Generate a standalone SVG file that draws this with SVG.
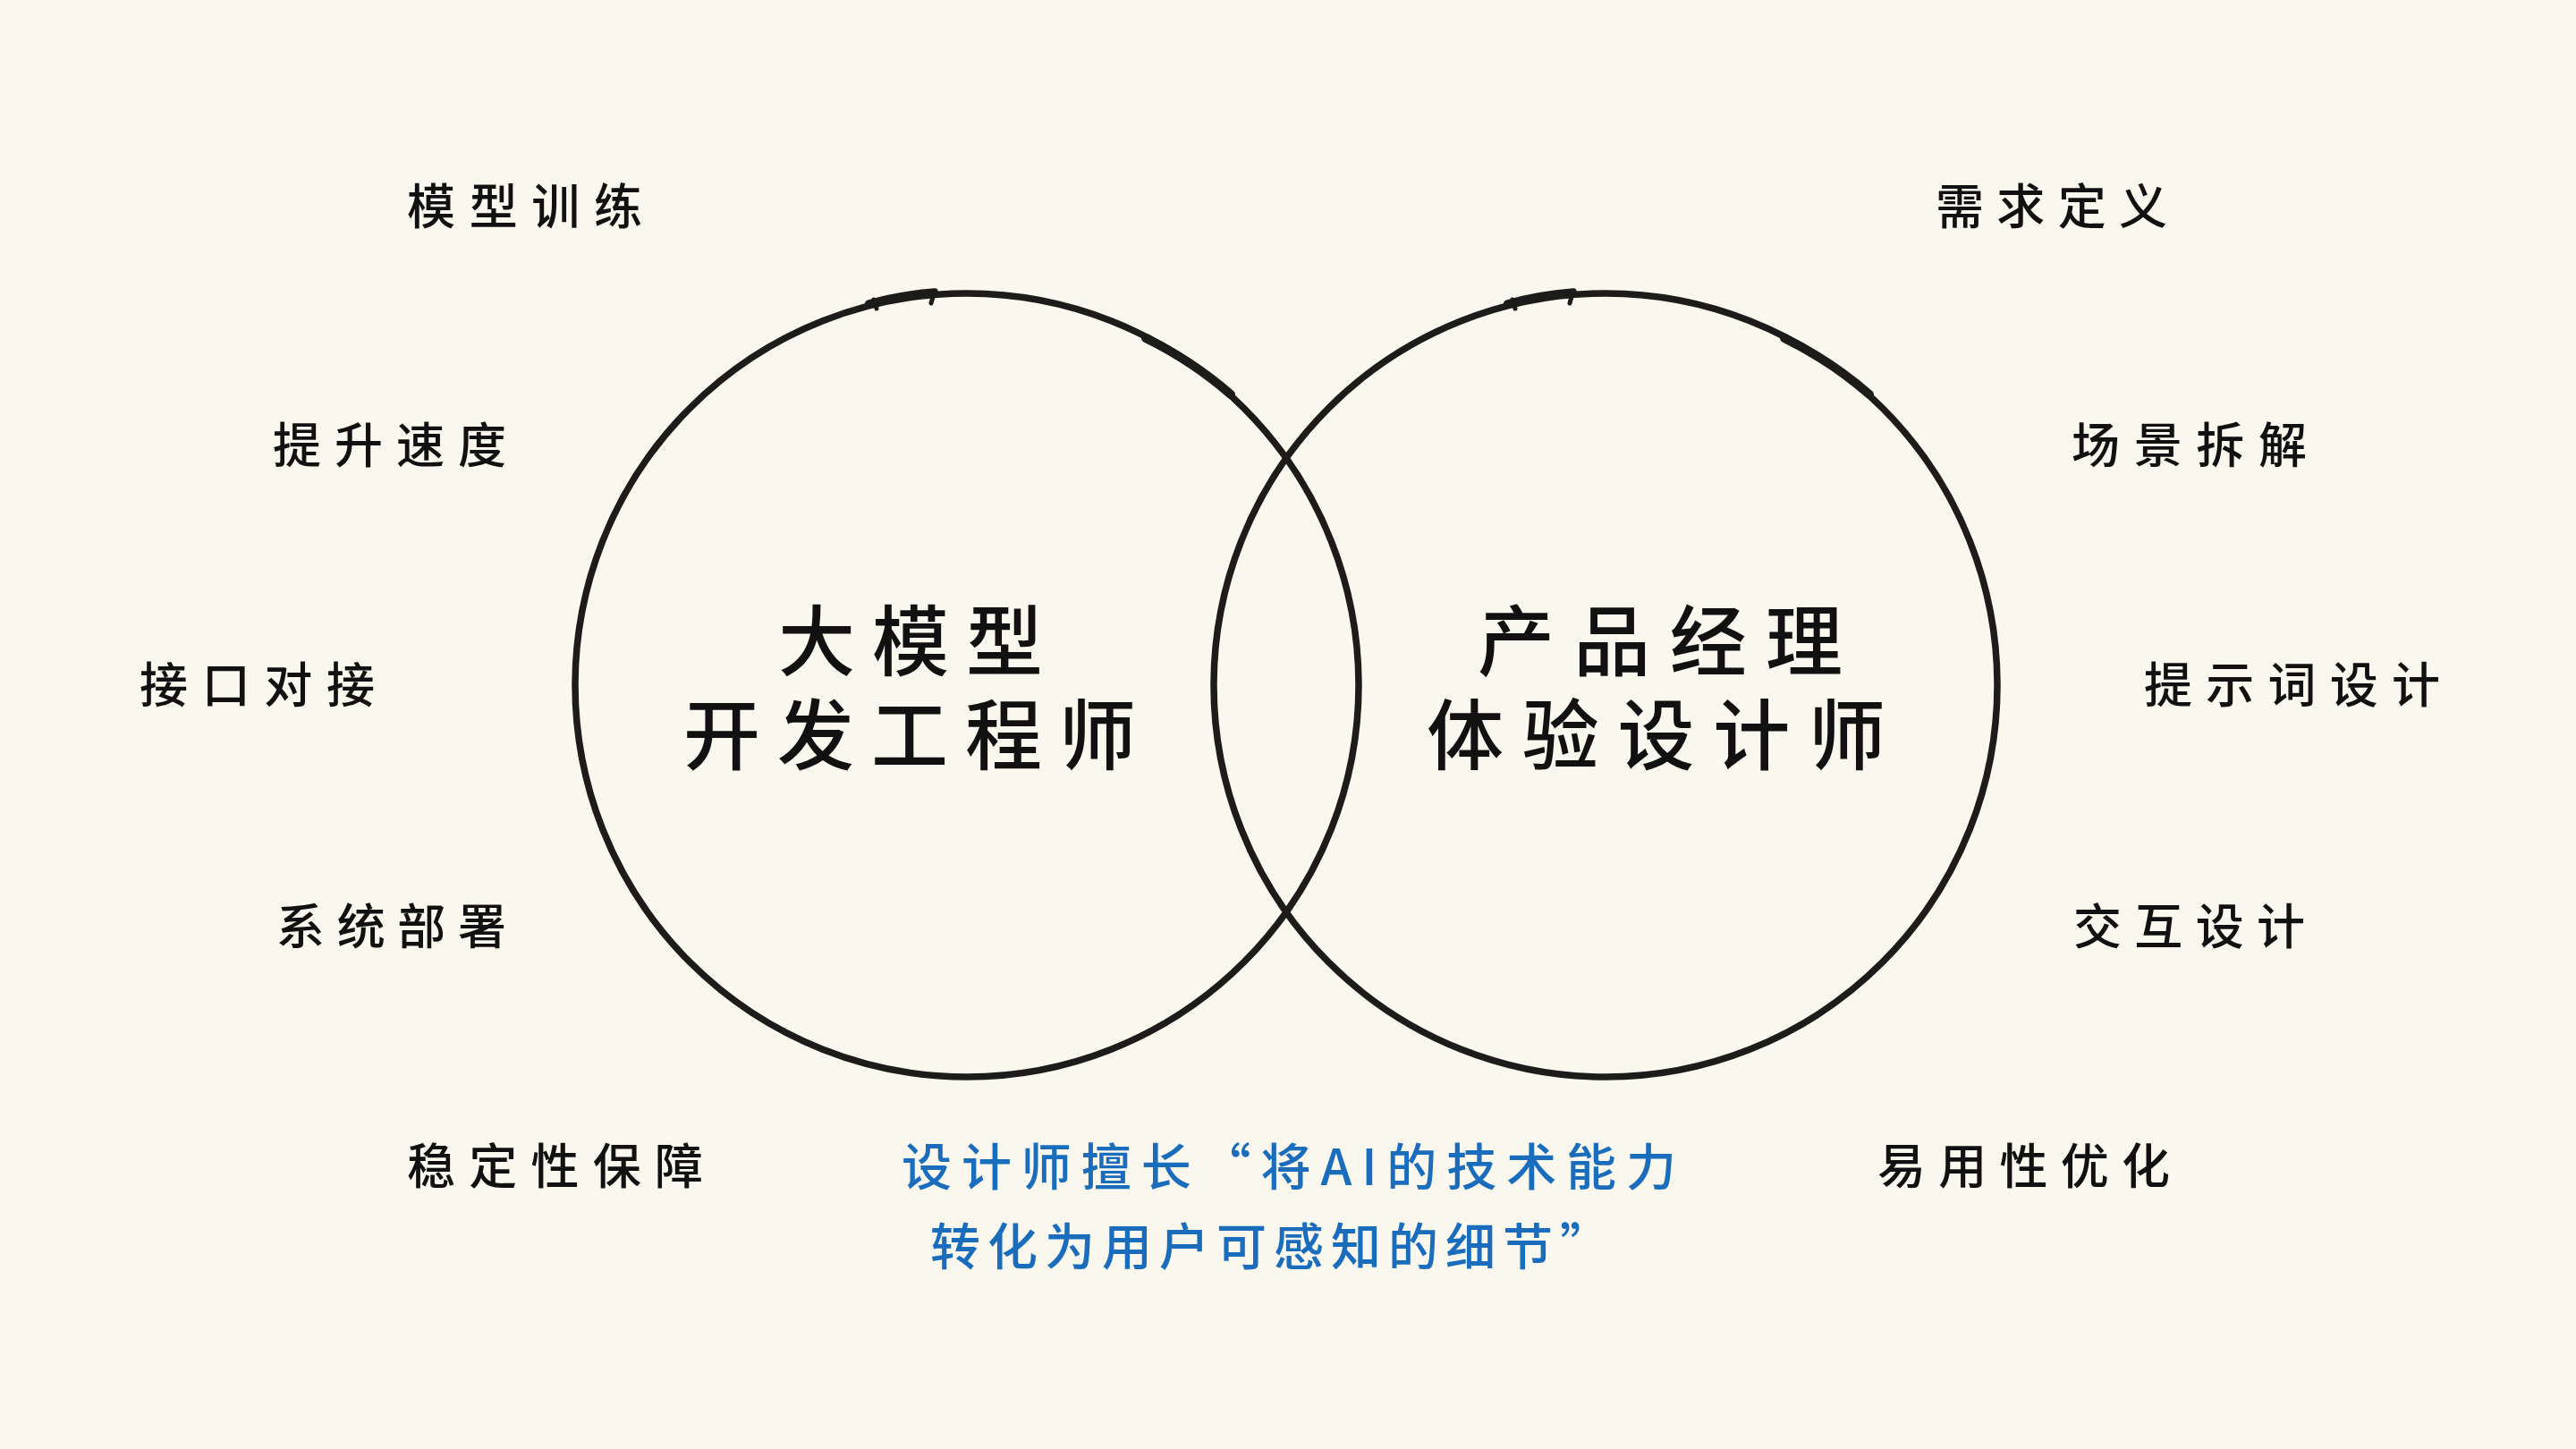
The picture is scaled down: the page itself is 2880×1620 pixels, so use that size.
<svg xmlns="http://www.w3.org/2000/svg" xmlns:xlink="http://www.w3.org/1999/xlink" width="2880" height="1620" viewBox="0 0 2880 1620">
<style>
.bg{fill:#faf8ee}
.ring{fill:none;stroke:#1c1c1a;stroke-width:7.5;stroke-linecap:round;stroke-linejoin:round}
.tick{fill:none;stroke:#1c1c1a;stroke-width:5;stroke-linecap:round}
.lbl{font-family:"Noto Sans CJK SC","Noto Sans",sans-serif;font-size:54px;font-weight:500;fill:#111;dominant-baseline:central}
.title{font-family:"Noto Sans CJK SC","Noto Sans",sans-serif;font-size:86px;font-weight:500;fill:#111;dominant-baseline:central}
.note{font-family:"Noto Sans CJK SC","Noto Sans",sans-serif;font-size:56px;font-weight:500;fill:#1a6dbd;dominant-baseline:central}
</style>
<defs>
<g id="sketchCircle">
<circle class="ring" cx="0" cy="0" r="438"/>
<path class="ring" d="M -110 -427 Q -75 -437 -36 -440"/>
<path class="tick" d="M -104 -431 L -101 -421 M -37 -438 L -40 -427"/>
<path class="ring" d="M 200 -388 A 440 440 0 0 1 295 -325" style="stroke-width:10"/>
</g>
</defs>
<rect class="bg" x="0" y="0" width="2880" height="1620"/>
<g id="connectors"></g>
<g id="circle-left">
<use xlink:href="#sketchCircle" transform="translate(1081 766)"/>
</g>
<g id="circle-right">
<use xlink:href="#sketchCircle" transform="translate(1795 766)"/>
</g>
<g id="title-left">
<text class="title" x="870" y="711" textLength="296" lengthAdjust="spacing">大模型</text>
<text class="title" x="764" y="816" textLength="506" lengthAdjust="spacing">开发工程师</text>
</g>
<g id="title-right">
<text class="title" x="1652" y="711" textLength="408" lengthAdjust="spacing">产品经理</text>
<text class="title" x="1595" y="816" textLength="513" lengthAdjust="spacing">体验设计师</text>
</g>
<g id="label-l1"><text class="lbl" x="455" y="227" textLength="263" lengthAdjust="spacing">模型训练</text></g>
<g id="label-l2"><text class="lbl" x="305" y="494" textLength="261" lengthAdjust="spacing">提升速度</text></g>
<g id="label-l3"><text class="lbl" x="156" y="762" textLength="263" lengthAdjust="spacing">接口对接</text></g>
<g id="label-l4"><text class="lbl" x="309" y="1032" textLength="257" lengthAdjust="spacing">系统部署</text></g>
<g id="label-l5"><text class="lbl" x="455" y="1300" textLength="331" lengthAdjust="spacing">稳定性保障</text></g>
<g id="label-r1"><text class="lbl" x="2164" y="227" textLength="259" lengthAdjust="spacing">需求定义</text></g>
<g id="label-r2"><text class="lbl" x="2316" y="494" textLength="263" lengthAdjust="spacing">场景拆解</text></g>
<g id="label-r3"><text class="lbl" x="2397" y="762" textLength="331" lengthAdjust="spacing">提示词设计</text></g>
<g id="label-r4"><text class="lbl" x="2318" y="1032" textLength="259" lengthAdjust="spacing">交互设计</text></g>
<g id="label-r5"><text class="lbl" x="2099" y="1300" textLength="327" lengthAdjust="spacing">易用性优化</text></g>
<g id="note">
<text class="note" x="1008" y="1300" textLength="866" lengthAdjust="spacing">设计师擅长“将AI的技术能力</text>
<text class="note" x="1040" y="1389" textLength="760" lengthAdjust="spacing">转化为用户可感知的细节”</text>
</g>
</svg>
